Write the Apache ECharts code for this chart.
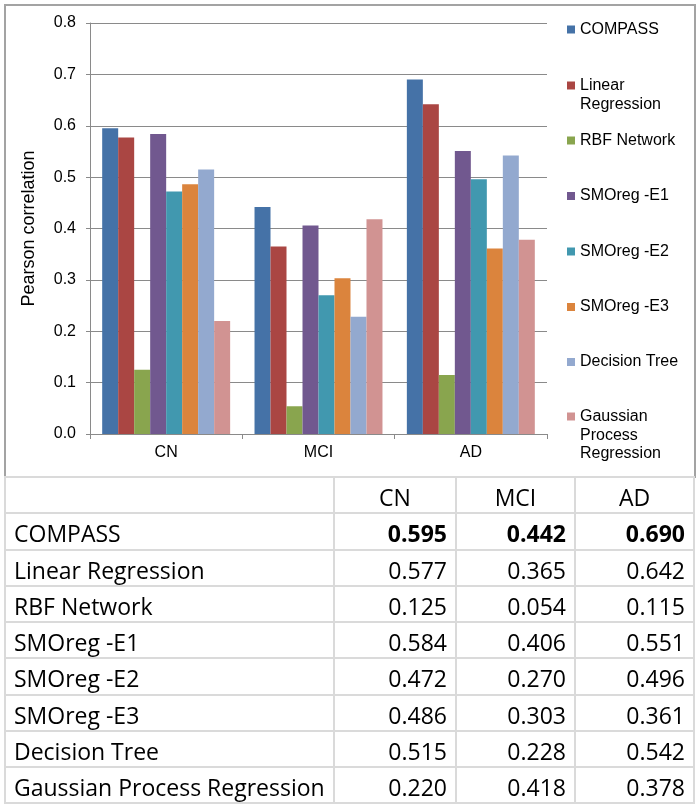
<!DOCTYPE html>
<html>
<head>
<meta charset="utf-8">
<script src="https://cdn.jsdelivr.net/npm/echarts@6/dist/echarts.min.js"></script>
<style>
  html, body { margin: 0; padding: 0; background: #fff; }
  #wrap { position: relative; width: 700px; height: 806px; overflow: hidden; }
  #frame { position: absolute; left: 4px; top: 4px; width: 688px; height: 470px; border: 2px solid #a3a3a3; }
  #chart { position: absolute; left: 0; top: 0; width: 700px; height: 478px; }
  #tbl { position: absolute; left: 4px; top: 476px; border-collapse: collapse; font-family: "Open Sans", sans-serif; font-size: 23px; color: #000; }
  #tbl td { border: 2px solid #dadada; padding: 4px 8px 0 8px; height: 30.25px; line-height: 30px; white-space: nowrap; }
  #tbl td.num { text-align: right; }
  #tbl td.hd { text-align: center; }
  #tbl tr.bold td.num { font-weight: bold; }
</style>
</head>
<body>
<div id="wrap">
  <div id="frame"></div>
  <div id="chart"></div>
  <table id="tbl"></table>
</div>
<script>
// ---- data ----
var categories = ['CN', 'MCI', 'AD'];
var seriesNames = ['COMPASS', 'Linear Regression', 'RBF Network', 'SMOreg -E1', 'SMOreg -E2', 'SMOreg -E3', 'Decision Tree', 'Gaussian Process Regression'];
var legendLines = [['COMPASS'], ['Linear', 'Regression'], ['RBF Network'], ['SMOreg -E1'], ['SMOreg -E2'], ['SMOreg -E3'], ['Decision Tree'], ['Gaussian', 'Process', 'Regression']];
var compass = [0.595, 0.442, 0.690];
var linearRegression = [0.577, 0.365, 0.642];
var rbfNetwork = [0.125, 0.054, 0.115];
var smoregE1 = [0.584, 0.406, 0.551];
var smoregE2 = [0.472, 0.270, 0.496];
var smoregE3 = [0.486, 0.303, 0.361];
var decisionTree = [0.515, 0.228, 0.542];
var gaussianProcess = [0.220, 0.418, 0.378];
var yTickLabels = ['0.0', '0.1', '0.2', '0.3', '0.4', '0.5', '0.6', '0.7', '0.8'];
var tableHeader = ['', 'CN', 'MCI', 'AD'];

var seriesValues = [compass, linearRegression, rbfNetwork, smoregE1, smoregE2, smoregE3, decisionTree, gaussianProcess];
var colors = ['#4572A7', '#AA4643', '#89A54E', '#71588F', '#4198AF', '#DB843D', '#93A9CF', '#D19392'];

// ---- chart ----
var chart = echarts.init(document.getElementById('chart'), null, { renderer: 'canvas' });
var font = '"Liberation Sans", Arial, sans-serif';
var lh = 18.7;
var legendFirstLineY = [29.5, 85.5, 140.5, 196, 251.5, 307, 362, 416.5];

var legends = seriesNames.map(function (name, i) {
  var lines = legendLines[i];
  var k = lines.length;
  // prepend (k-1) blank lines so the first text line sits level with the marker
  var pre = [];
  for (var m = 0; m < k - 1; m++) pre.push(' ');
  var label = pre.concat(lines).join('\n');
  return {
    orient: 'vertical',
    left: 567,
    top: legendFirstLineY[i] - (2 * k - 1) * lh / 2,
    padding: 0,
    itemWidth: 8,
    itemHeight: 8,
    icon: 'rect',
    selectedMode: false,
    data: [name],
    formatter: function () { return label; },
    textStyle: {
      fontFamily: font,
      fontSize: 16,
      color: '#000',
      lineHeight: lh
    }
  };
});

var option = {
  animation: false,
  color: colors,
  legend: legends,
  grid: { left: 90, top: 23, width: 457, height: 411, containLabel: false },
  xAxis: {
    type: 'category',
    data: categories,
    axisLine: { show: true, lineStyle: { color: '#8a8a8a', width: 1 } },
    axisTick: { show: true, interval: 0, length: 5, lineStyle: { color: '#8a8a8a' } },
    axisLabel: { margin: 11, fontFamily: font, fontSize: 16, color: '#000' },
    splitLine: { show: false }
  },
  yAxis: {
    type: 'value',
    min: 0,
    max: 0.8,
    interval: 0.1,
    name: 'Pearson correlation',
    nameLocation: 'middle',
    nameGap: 52,
    nameTextStyle: { fontFamily: font, fontSize: 18, color: '#000' },
    axisLine: { show: true, lineStyle: { color: '#8a8a8a', width: 1 } },
    axisTick: { show: true, length: 4, lineStyle: { color: '#8a8a8a' } },
    axisLabel: {
      margin: 14,
      fontFamily: font,
      fontSize: 16,
      color: '#000',
      formatter: function (v) { return yTickLabels[Math.round(v * 10)]; }
    },
    splitLine: { show: true, lineStyle: { color: '#8a8a8a', width: 1 } }
  },
  series: seriesNames.map(function (name, i) {
    return {
      name: name,
      type: 'bar',
      data: seriesValues[i],
      barGap: '0%',
      barCategoryGap: '16%',
      itemStyle: { color: colors[i] }
    };
  })
};
chart.setOption(option);

// ---- table ----
var tbl = document.getElementById('tbl');
var colWidths = [311, 104, 101, 101];
var html = '<tr>';
tableHeader.forEach(function (h, j) {
  html += '<td class="hd" style="width:' + colWidths[j] + 'px">' + h + '</td>';
});
html += '</tr>';
seriesNames.forEach(function (name, i) {
  html += '<tr' + (i === 0 ? ' class="bold"' : '') + '><td>' + name + '</td>';
  seriesValues[i].forEach(function (v) {
    html += '<td class="num">' + v.toFixed(3) + '</td>';
  });
  html += '</tr>';
});
tbl.innerHTML = html;
</script>
</body>
</html>
